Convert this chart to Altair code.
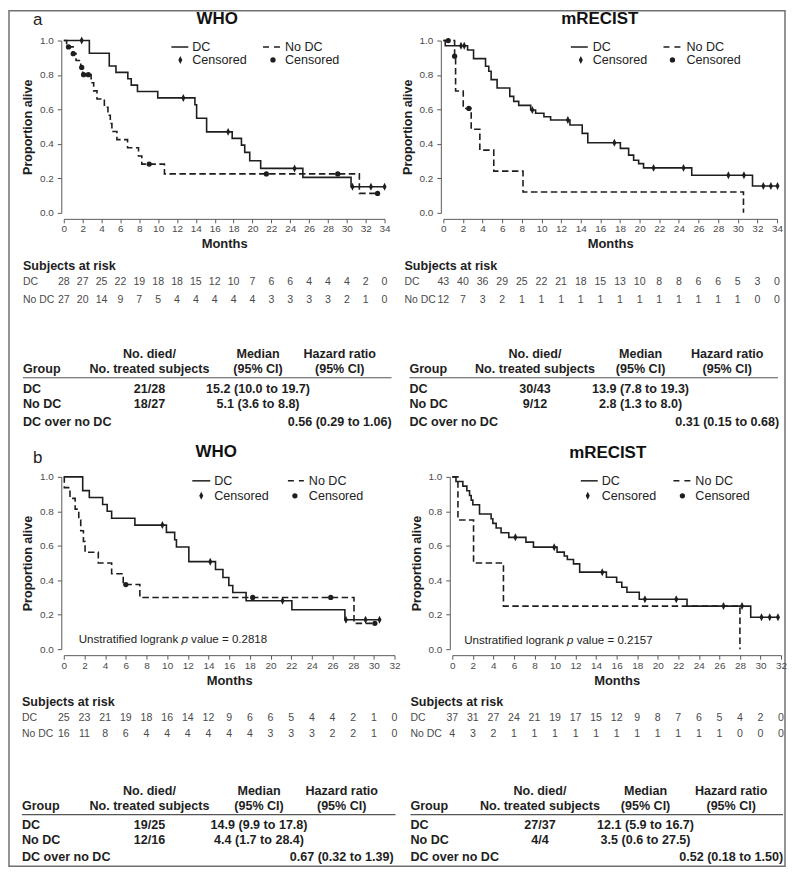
import altair as alt
import pandas as pd

FONT = "Liberation Sans"
INK = "#1e1e1e"
GREY = "#4a4a4a"
AXC = "#5a5a5a"
DIAMOND = "M0,-1L0.5,0L0,1L-0.5,0Z"

# ------------------------------------------------------------------ data
months_34 = list(range(0, 35, 2))
months_32 = list(range(0, 33, 2))

# ---- a / WHO
a_who_dc_time = [0, 2.71, 4.82, 5.53, 6.79, 7.15, 7.81, 9.96, 13.9, 14.08, 15.14, 17.85, 18.83, 19.18, 19.71, 20.87, 25.34, 30.45, 34.0]
a_who_dc_surv = [1.0, 0.926, 0.852, 0.815, 0.778, 0.741, 0.704, 0.667, 0.627, 0.549, 0.470, 0.432, 0.393, 0.351, 0.302, 0.258, 0.206, 0.152, 0.152]
a_who_dc_cens_time = [1.9, 12.67, 17.42, 24.46, 30.6, 32.56, 34.0]
a_who_dc_cens_surv = [1.0, 0.667, 0.470, 0.258, 0.152, 0.152, 0.152]
a_who_nodc_time = [0, 0.3, 1.0, 1.3, 1.8, 2.0, 2.9, 3.17, 3.52, 4.3, 4.68, 4.93, 5.1, 5.63, 6.76, 7.92, 8.27, 10.67, 31.33, 33.26]
a_who_nodc_surv = [1.0, 0.963, 0.924, 0.884, 0.844, 0.802, 0.755, 0.708, 0.661, 0.613, 0.566, 0.519, 0.472, 0.425, 0.378, 0.330, 0.283, 0.226, 0.113, 0.113]
a_who_nodc_cens_time = [0.5, 1.0, 1.9, 2.1, 2.6, 9.05, 21.47, 29.04, 33.26]
a_who_nodc_cens_surv = [0.963, 0.924, 0.844, 0.802, 0.802, 0.283, 0.226, 0.226, 0.113]
a_who_risk_dc = [28, 27, 25, 22, 19, 18, 18, 15, 12, 10, 7, 6, 6, 4, 4, 4, 2, 0]
a_who_risk_nodc = [27, 20, 14, 9, 7, 5, 4, 4, 4, 4, 4, 3, 3, 3, 3, 2, 1, 0]
a_who_died = ["21/28", "18/27"]
a_who_median = ["15.2 (10.0 to 19.7)", "5.1 (3.6 to 8.8)"]
a_who_hr = "0.56 (0.29 to 1.06)"

# ---- a / mRECIST
a_mr_dc_time = [0, 0.2, 2.47, 3.08, 4.3, 4.63, 4.87, 5.48, 6.77, 7.17, 7.68, 8.9, 9.4, 10.25, 10.93, 12.9, 14.15, 14.72, 18.04, 18.88, 19.39, 19.9, 20.4, 25.31, 31.5, 34.05]
a_mr_dc_surv = [1.0, 0.97, 0.945, 0.895, 0.851, 0.822, 0.773, 0.725, 0.676, 0.647, 0.624, 0.597, 0.578, 0.558, 0.539, 0.510, 0.461, 0.407, 0.374, 0.335, 0.305, 0.286, 0.261, 0.218, 0.156, 0.156]
a_mr_dc_cens_time = [1.8, 2.13, 9.07, 12.69, 17.43, 21.42, 24.47, 29.04, 30.63, 32.6, 33.37, 34.05]
a_mr_dc_cens_surv = [0.97, 0.97, 0.597, 0.539, 0.407, 0.261, 0.261, 0.218, 0.218, 0.156, 0.156, 0.156]
a_mr_nodc_time = [0, 1.15, 1.25, 2.03, 2.84, 3.72, 5.14, 8.12, 30.58]
a_mr_nodc_surv = [1.0, 0.909, 0.707, 0.606, 0.485, 0.364, 0.242, 0.121, 0.0]
a_mr_nodc_cens_time = [0.5, 1.15, 2.6]
a_mr_nodc_cens_surv = [1.0, 0.909, 0.606]
a_mr_risk_dc = [43, 40, 36, 29, 25, 22, 21, 18, 15, 13, 10, 8, 8, 6, 6, 5, 3, 0]
a_mr_risk_nodc = [12, 7, 3, 2, 1, 1, 1, 1, 1, 1, 1, 1, 1, 1, 1, 1, 0, 0]
a_mr_died = ["30/43", "9/12"]
a_mr_median = ["13.9 (7.8 to 19.3)", "2.8 (1.3 to 8.0)"]
a_mr_hr = "0.31 (0.15 to 0.68)"

# ---- b / WHO
b_who_dc_time = [0, 1.83, 2.47, 3.76, 4.2, 4.63, 6.88, 9.93, 10.73, 10.9, 12.1, 14.68, 15.4, 15.97, 16.35, 17.64, 22.07, 27.2, 30.55]
b_who_dc_surv = [1.0, 0.92, 0.88, 0.84, 0.80, 0.76, 0.72, 0.678, 0.635, 0.593, 0.508, 0.462, 0.416, 0.370, 0.329, 0.281, 0.229, 0.171, 0.171]
b_who_dc_cens_time = [9.54, 14.17, 21.17, 27.3, 29.2, 30.55]
b_who_dc_cens_surv = [0.72, 0.508, 0.281, 0.171, 0.171, 0.171]
b_who_nodc_time = [0, 0.05, 0.6, 1.1, 1.45, 1.64, 1.9, 2.06, 3.34, 4.63, 5.75, 7.36, 28.08, 30.1]
b_who_nodc_surv = [1.0, 0.9375, 0.875, 0.8125, 0.75, 0.6875, 0.625, 0.5625, 0.5, 0.4375, 0.375, 0.30, 0.15, 0.15]
b_who_nodc_cens_time = [6.0, 18.28, 25.83, 30.1]
b_who_nodc_cens_surv = [0.375, 0.30, 0.30, 0.15]
b_who_risk_dc = [25, 23, 21, 19, 18, 16, 14, 12, 9, 6, 6, 5, 4, 4, 2, 1, 0]
b_who_risk_nodc = [16, 11, 8, 6, 4, 4, 4, 4, 4, 4, 3, 3, 3, 2, 2, 1, 0]
b_who_died = ["19/25", "12/16"]
b_who_median = ["14.9 (9.9 to 17.8)", "4.4 (1.7 to 28.4)"]
b_who_hr = "0.67 (0.32 to 1.39)"
b_who_p = "0.2818"

# ---- b / mRECIST
b_mr_dc_time = [0, 0.36, 1.03, 1.42, 1.68, 1.84, 2.0, 2.65, 3.78, 3.95, 4.27, 4.75, 5.5, 7.17, 7.9, 10.2, 10.9, 11.2, 11.8, 12.4, 15.0, 16.0, 16.5, 17.0, 18.2, 22.85, 29.05, 31.7]
b_mr_dc_surv = [1.0, 0.973, 0.946, 0.919, 0.892, 0.865, 0.838, 0.784, 0.757, 0.730, 0.703, 0.676, 0.649, 0.621, 0.592, 0.563, 0.541, 0.520, 0.495, 0.447, 0.417, 0.388, 0.359, 0.330, 0.290, 0.250, 0.185, 0.185]
b_mr_dc_cens_time = [6.14, 9.92, 14.6, 18.75, 21.8, 26.4, 28.2, 30.1, 30.9, 31.7]
b_mr_dc_cens_surv = [0.649, 0.592, 0.447, 0.290, 0.290, 0.250, 0.250, 0.185, 0.185, 0.185]
b_mr_nodc_time = [0, 0.55, 2.07, 4.98, 28.0]
b_mr_nodc_surv = [1.0, 0.75, 0.5, 0.25, 0.0]
b_mr_nodc_cens_time = []
b_mr_nodc_cens_surv = []
b_mr_risk_dc = [37, 31, 27, 24, 21, 19, 17, 15, 12, 9, 8, 7, 6, 5, 4, 2, 0]
b_mr_risk_nodc = [4, 3, 2, 1, 1, 1, 1, 1, 1, 1, 1, 1, 1, 1, 0, 0, 0]
b_mr_died = ["27/37", "4/4"]
b_mr_median = ["12.1 (5.9 to 16.7)", "3.5 (0.6 to 27.5)"]
b_mr_hr = "0.52 (0.18 to 1.50)"
b_mr_p = "0.2157"

# ------------------------------------------------------------------ helpers
dummy = pd.DataFrame({"k": [0]})
H = 173


def txt(text, x, y, size=12.6, weight="bold", align="left", color=INK,
        baseline="middle", style="normal"):
    return alt.Chart(dummy).mark_text(
        text=text, font=FONT, fontSize=size, fontWeight=weight, align=align,
        baseline=baseline, color=color, fontStyle=style,
    ).encode(x=alt.value(x), y=alt.value(y))


def hline(x1, x2, y, dash=None, color=INK, width=1.5):
    kw = dict(color=color, strokeWidth=width)
    if dash:
        kw["strokeDash"] = dash
    return alt.Chart(dummy).mark_rule(**kw).encode(
        x=alt.value(x1), x2=alt.value(x2), y=alt.value(y))


def sym(shape, x, y, size):
    return alt.Chart(dummy).mark_point(
        shape=shape, filled=True, size=size, color=INK, opacity=1, strokeWidth=0
    ).encode(x=alt.value(x), y=alt.value(y))


def panel(p):
    W, xmax = p["W"], p["xmax"]
    xs = alt.Scale(domain=[0, xmax], nice=False, zero=True)
    ys = alt.Scale(domain=[0, 1], nice=False)
    xaxis = alt.Axis(values=list(range(0, xmax + 1, 2)), format="d", title="Months",
                     offset=6, tickSize=4, grid=False, labelFontSize=10, labelColor=GREY,
                     labelFont=FONT, labelPadding=1, labelFlush=False, domainColor=AXC,
                     tickColor=AXC, titleFont=FONT, titleFontSize=13, titleFontWeight="bold",
                     titleColor=INK, titlePadding=4)
    yaxis = alt.Axis(values=[0, 0.2, 0.4, 0.6, 0.8, 1.0], format=".1f", title="Proportion alive",
                     offset=2.5, tickSize=4, grid=False, labelFontSize=10, labelColor=GREY,
                     labelFont=FONT, labelPadding=4, labelFlush=False, domainColor=AXC,
                     tickColor=AXC, titleFont=FONT, titleFontSize=12.6, titleFontWeight="bold",
                     titleColor=INK, titlePadding=5)
    X = alt.X("t:Q", scale=xs, axis=xaxis)
    Y = alt.Y("s:Q", scale=ys, axis=yaxis)

    curves = pd.concat([
        pd.DataFrame({"t": p["dc_t"], "s": p["dc_s"], "g": "DC"}),
        pd.DataFrame({"t": p["nd_t"], "s": p["nd_s"], "g": "No DC"}),
    ])
    layers = [
        alt.Chart(curves).mark_line(interpolate="step-after", color=INK, strokeWidth=1.6).encode(
            x=X, y=Y,
            strokeDash=alt.StrokeDash("g:N", scale=alt.Scale(domain=["DC", "No DC"],
                                      range=[[1, 0], [6.5, 3.5]]), legend=None),
        )
    ]
    if p["dc_ct"]:
        layers.append(alt.Chart(pd.DataFrame({"t": p["dc_ct"], "s": p["dc_cs"]})).mark_point(
            shape=DIAMOND, filled=True, size=64, color=INK, opacity=1, strokeWidth=0
        ).encode(x=X, y=Y))
    if p["nd_ct"]:
        layers.append(alt.Chart(pd.DataFrame({"t": p["nd_ct"], "s": p["nd_cs"]})).mark_point(
            shape="circle", filled=True, size=28, color=INK, opacity=1, strokeWidth=0
        ).encode(x=X, y=Y))

    # at-risk table (x from the months scale)
    risk = pd.concat([
        pd.DataFrame({"t": p["months"], "n": p["risk_dc"], "g": "DC"}),
        pd.DataFrame({"t": p["months"], "n": p["risk_nd"], "g": "No DC"}),
    ])
    for g, yy in (("DC", p["ry"][1]), ("No DC", p["ry"][2])):
        layers.append(alt.Chart(risk).transform_filter(alt.datum.g == g).mark_text(
            font=FONT, fontSize=10.6, color=GREY, align="center", baseline="middle"
        ).encode(x=X, y=alt.value(yy), text="n:Q"))
    rx = p["risk_x"]
    layers += [
        txt("Subjects at risk", rx, p["ry"][0], size=12.6),
        txt("DC", rx, p["ry"][1], size=10.5, weight="normal", color=GREY),
        txt("No DC", rx, p["ry"][2], size=10.5, weight="normal", color=GREY),
    ]

    # titles (baseline "top": y = glyph baseline - 0.79 * size)
    tfs = 17
    layers.append(txt(p["title"], p["title_x"], p["title_y"] - 0.79 * tfs, size=tfs,
                      align="center", baseline="top", color="#111"))
    if p.get("letter"):
        layers.append(txt(p["letter"], p["letter_x"], p["letter_y"] - 0.79 * 17, size=17,
                          weight="normal", baseline="top", color="#222"))

    # legend
    lg = p["leg"]
    lfs = 12.6
    layers += [
        hline(lg["l1"][0], lg["l1"][1], lg["r1"]),
        hline(lg["l2"][0], lg["l2"][1], lg["r1"], dash=[6, 5]),
        txt("DC", lg["t1"], lg["r1"], size=lfs, weight="normal", color="#222"),
        txt("No DC", lg["t2"], lg["r1"], size=lfs, weight="normal", color="#222"),
        sym(DIAMOND, lg["dia"], lg["r2"], 64),
        sym("circle", lg["cir"], lg["r2"], 28),
        txt("Censored", lg["t1"], lg["r2"], size=lfs, weight="normal", color="#222"),
        txt("Censored", lg["t2"], lg["r2"], size=lfs, weight="normal", color="#222"),
    ]

    # log-rank note
    if p.get("pval"):
        fs = 11.6
        lx, ly = p["lr_x"], p["lr_y"]
        layers += [
            txt("Unstratified logrank", lx, ly, size=fs, weight="normal", color="#222"),
            txt("p", lx + 8.892 * fs, ly, size=fs, weight="normal", color="#222", style="italic"),
            txt("value = " + p["pval"], lx + 9.726 * fs, ly, size=fs, weight="normal", color="#222"),
        ]

    # summary table
    gx, c1, c2, c3 = p["grp_x"], p["c1"], p["c2"], p["c3"]
    ty = p["ty"]
    layers += [
        txt("No. died/", c1, ty[0], align="center"),
        txt("Median", c2, ty[0], align="center"),
        txt("Hazard ratio", c3, ty[0], align="center"),
        txt("Group", gx, ty[1]),
        txt("No. treated subjects", c1, ty[1], align="center"),
        txt("(95% CI)", c2, ty[1], align="center"),
        txt("(95% CI)", c3, ty[1], align="center"),
        hline(gx, p["rule_x2"], ty[2], color="#555", width=1.2),
        txt("DC", gx, ty[3]),
        txt(p["died"][0], c1, ty[3], align="center"),
        txt(p["median"][0], c2, ty[3], align="center"),
        txt("No DC", gx, ty[4]),
        txt(p["died"][1], c1, ty[4], align="center"),
        txt(p["median"][1], c2, ty[4], align="center"),
        txt("DC over no DC", gx, ty[5]),
        txt(p["hr"], c3, ty[5], align="center"),
    ]

    if p.get("border"):
        b = p["border"]
        layers.append(alt.Chart(dummy).mark_rect(
            fillOpacity=0, stroke="#707070", strokeWidth=1.5
        ).encode(x=alt.value(b[0]), x2=alt.value(b[1]), y=alt.value(b[2]), y2=alt.value(b[3])))

    return alt.layer(*layers).properties(width=W, height=H)


TY_A = [315, 330, 338.5, 349.5, 364.5, 383]
TY_B = [315, 330, 339, 350, 365, 382]

pA1 = panel(dict(
    W=322, xmax=34, months=months_34,
    dc_t=a_who_dc_time, dc_s=a_who_dc_surv, dc_ct=a_who_dc_cens_time, dc_cs=a_who_dc_cens_surv,
    nd_t=a_who_nodc_time, nd_s=a_who_nodc_surv, nd_ct=a_who_nodc_cens_time, nd_cs=a_who_nodc_cens_surv,
    risk_dc=a_who_risk_dc, risk_nd=a_who_risk_nodc, died=a_who_died, median=a_who_median, hr=a_who_hr,
    title="WHO", title_x=154, title_y=-16.3, letter="a", letter_x=-31, letter_y=-15.5,
    leg=dict(l1=(108, 125), t1=129, l2=(200, 219), t2=222, dia=117, cir=210, r1=6.5, r2=19.5),
    risk_x=-41, ry=[226, 242, 260], grp_x=-41, c1=86, c2=195, c3=277, rule_x2=329, ty=TY_A,
    border=(-55, 724, -30, 829),
))
pA2 = panel(dict(
    W=335, xmax=34, months=months_34,
    dc_t=a_mr_dc_time, dc_s=a_mr_dc_surv, dc_ct=a_mr_dc_cens_time, dc_cs=a_mr_dc_cens_surv,
    nd_t=a_mr_nodc_time, nd_s=a_mr_nodc_surv, nd_ct=a_mr_nodc_cens_time, nd_cs=a_mr_nodc_cens_surv,
    risk_dc=a_mr_risk_dc, risk_nd=a_mr_risk_nodc, died=a_mr_died, median=a_mr_median, hr=a_mr_hr,
    title="mRECIST", title_x=157, title_y=-16.3,
    leg=dict(l1=(128, 145), t1=150, l2=(221, 239), t2=244, dia=138, cir=230, r1=6.5, r2=19.5),
    risk_x=-39, ry=[226, 242, 260], grp_x=-34, c1=92, c2=198, c3=285, rule_x2=336, ty=TY_A,
))
pB1 = panel(dict(
    W=332, xmax=32, months=months_32,
    dc_t=b_who_dc_time, dc_s=b_who_dc_surv, dc_ct=b_who_dc_cens_time, dc_cs=b_who_dc_cens_surv,
    nd_t=b_who_nodc_time, nd_s=b_who_nodc_surv, nd_ct=b_who_nodc_cens_time, nd_cs=b_who_nodc_cens_surv,
    risk_dc=b_who_risk_dc, risk_nd=b_who_risk_nodc, died=b_who_died, median=b_who_median, hr=b_who_hr,
    title="WHO", title_x=153, title_y=-19, letter="b", letter_x=-31, letter_y=-13,
    leg=dict(l1=(129, 147), t1=151, l2=(225, 241), t2=246, dia=138, cir=232, r1=4, r2=19),
    pval=b_who_p, lr_x=15, lr_y=164,
    risk_x=-42, ry=[226, 242, 258], grp_x=-42, c1=86, c2=196, c3=279, rule_x2=333, ty=TY_B,
))
pB2 = panel(dict(
    W=330, xmax=32, months=months_32,
    dc_t=b_mr_dc_time, dc_s=b_mr_dc_surv, dc_ct=b_mr_dc_cens_time, dc_cs=b_mr_dc_cens_surv,
    nd_t=b_mr_nodc_time, nd_s=b_mr_nodc_surv, nd_ct=b_mr_nodc_cens_time, nd_cs=b_mr_nodc_cens_surv,
    risk_dc=b_mr_risk_dc, risk_nd=b_mr_risk_nodc, died=b_mr_died, median=b_mr_median, hr=b_mr_hr,
    title="mRECIST", title_x=156, title_y=-18.5,
    leg=dict(l1=(129, 146), t1=150, l2=(222, 240), t2=244, dia=136, cir=231, r1=4, r2=19),
    pval=b_mr_p, lr_x=12, lr_y=164.5,
    risk_x=-42, ry=[226, 242, 258], grp_x=-42, c1=88, c2=194, c3=280, rule_x2=332, ty=TY_B,
))

rowA = alt.hconcat(pA1, pA2, spacing=59, bounds="flush")
rowB = alt.hconcat(pB1, pB2, spacing=58, bounds="flush")
# nested rows report no height in a flush layout, so the spacing is the full row pitch
chart = alt.vconcat(rowA, rowB, spacing=438, bounds="flush").properties(
    padding=0, background="white"
).configure(font=FONT).configure_view(stroke=None)

chart.save("out.html", embed_options={"renderer": "svg", "actions": False})
